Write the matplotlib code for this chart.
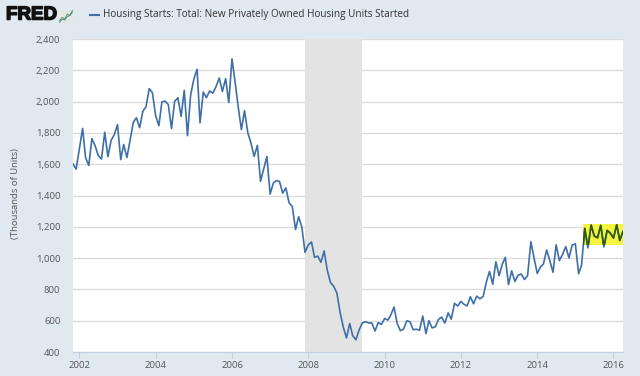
import matplotlib
matplotlib.use('Agg')
import matplotlib.pyplot as plt
import matplotlib.dates as mdates
import matplotlib.patheffects as pe
from matplotlib.patches import Rectangle
import pandas as pd

# monthly housing starts, thousands of units, Nov 2001 - Apr 2016
start_month = '2001-11-01'
starts = [
    1602, 1568,
    1698, 1829, 1642, 1592, 1764, 1717, 1655, 1633, 1804, 1648, 1753, 1788,
    1853, 1629, 1726, 1643, 1751, 1867, 1897, 1833, 1939, 1967, 2083, 2057,
    1911, 1846, 1998, 2003, 1981, 1828, 2002, 2024, 1905, 2072, 1782, 2042,
    2144, 2207, 1864, 2061, 2025, 2068, 2054, 2095, 2151, 2065, 2147, 1994,
    2273, 2119, 1969, 1821, 1942, 1802, 1737, 1650, 1720, 1491, 1570, 1649,
    1409, 1480, 1495, 1490, 1415, 1448, 1354, 1330, 1183, 1264, 1197, 1037,
    1084, 1103, 1005, 1013, 973, 1046, 923, 844, 820, 777, 652, 560,
    490, 582, 505, 478, 540, 585, 594, 586, 585, 534, 588, 576,
    614, 604, 636, 687, 583, 536, 546, 599, 594, 543, 545, 539,
    630, 517, 600, 554, 561, 608, 623, 585, 650, 610, 711, 694,
    723, 704, 695, 753, 708, 757, 740, 754, 847, 915, 833, 976,
    888, 962, 1005, 831, 919, 850, 891, 898, 863, 889, 1105, 1003,
    902, 943, 962, 1052, 984, 909, 1085, 984, 1024, 1074, 1001, 1083,
    1091, 900, 954, 1190, 1065, 1211, 1141, 1130, 1209, 1071, 1177, 1160,
    1128, 1213, 1113, 1170,
]
dates = pd.date_range(start_month, periods=len(starts), freq='MS')

recession = ('2007-12-01', '2009-06-01')
highlight_start = '2015-03-15'
highlight_lo, highlight_hi = 1083, 1219

years = [2002, 2004, 2006, 2008, 2010, 2012, 2014, 2016]
yticks = [400, 600, 800, 1000, 1200, 1400, 1600, 1800, 2000, 2200, 2400]

# little logo sparkline
icon_a = [1, 2, 1.5, 3, 2.5, 4]
icon_b = [0.5, 1.5, 1.2, 2.2, 2.6, 3.4]

bg = '#e1e9f0'
blue = '#3f6fa8'
txt = '#555555'

plt.rcParams['font.family'] = ['Open Sans', 'DejaVu Sans']

fig = plt.figure(figsize=(6.4, 3.76), dpi=100)
fig.patch.set_facecolor(bg)

ax = fig.add_axes([73 / 640, 24 / 376, 550 / 640, 313 / 376])
ax.set_facecolor('white')

ax.axvspan(pd.Timestamp(recession[0]), pd.Timestamp(recession[1]), color='#e3e3e3', lw=0, zorder=1)
ax.plot(dates, starts, color=blue, lw=1.2, zorder=3)

# yellow highlight on the latest stretch
box = Rectangle((mdates.date2num(pd.Timestamp(highlight_start)), highlight_lo),
                mdates.date2num(dates[-1]) - mdates.date2num(pd.Timestamp(highlight_start)) + 1,
                highlight_hi - highlight_lo, facecolor='#f6f43e', lw=0, zorder=2.5)
ax.add_patch(box)
green, = ax.plot(dates, starts, color='#2f5c05', lw=1.2, zorder=4)
green.set_clip_path(box)

ax.set_xlim(dates[0], dates[-1])
ax.set_ylim(400, 2400)
ax.set_yticks(yticks)
ax.set_yticklabels(['{:,}'.format(v) for v in yticks])
ax.set_xticks([pd.Timestamp('%d-01-01' % y) for y in years])
ax.set_xticklabels([str(y) for y in years])

ax.yaxis.grid(True, color='#dcdcdc', lw=1)
ax.set_axisbelow(True)
for s in ['top', 'right', 'left']:
    ax.spines[s].set_visible(False)
ax.spines['bottom'].set_color('#c0d0e0')
ax.tick_params(axis='y', length=0, pad=9, labelsize=6.8, labelcolor=txt)
ax.tick_params(axis='x', length=4, width=0.8, color='#c0d0e0', pad=2.5, labelsize=6.8, labelcolor=txt)

fig.text(16 / 640, 1 - 194 / 376, '(Thousands of Units)', rotation=90, ha='center', va='center',
         fontsize=6.8, color=txt)

# header: logo and legend
fig.text(6 / 640, 1 - 15 / 376, 'FRED', fontsize=13.5, fontweight='bold', color='#111111',
         ha='left', va='center', family=['Liberation Sans', 'DejaVu Sans'],
         path_effects=[pe.withStroke(linewidth=1.1, foreground='#111111')])
ic = fig.add_axes([59 / 640, 1 - 23 / 376, 14 / 640, 13 / 376])
ic.set_facecolor('#e4e8e4')
ic.plot(icon_a, color='#6aa84f', lw=0.8)
ic.plot(icon_b, color='#4572a7', lw=0.6)
ic.set_xticks([])
ic.set_yticks([])
for s in ic.spines.values():
    s.set_visible(False)

fig.add_artist(plt.Line2D([90 / 640, 99 / 640], [1 - 15 / 376, 1 - 15 / 376], color=blue, lw=1.5))
fig.text(103 / 640, 1 - 15 / 376, 'Housing Starts: Total: New Privately Owned Housing Units Started',
         fontsize=7.2, color='#333333', ha='left', va='center')

fig.savefig('out.png', dpi=100, facecolor=bg)
